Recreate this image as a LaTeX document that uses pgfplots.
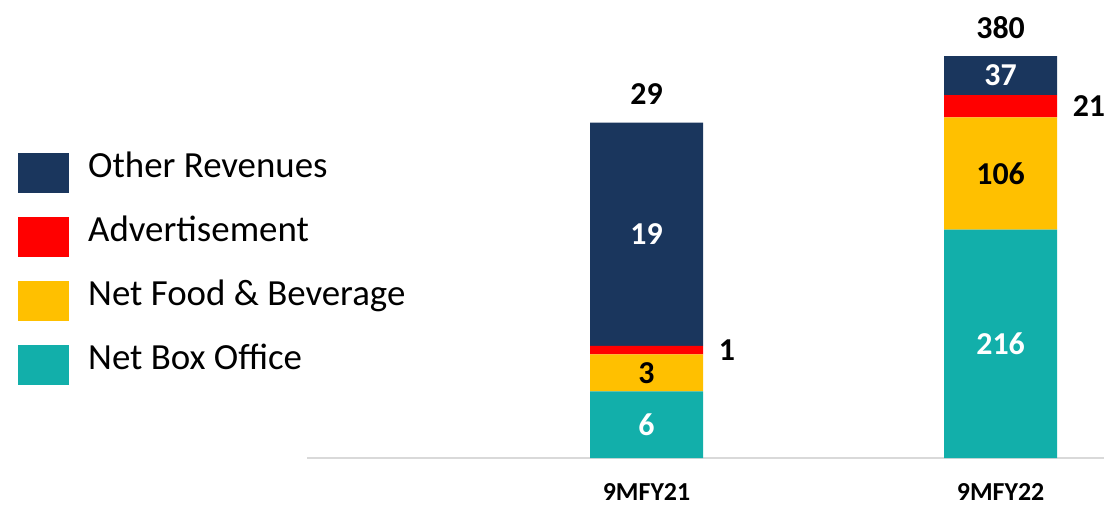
\documentclass[border=0pt]{standalone}
\usepackage{fontspec}
\setmainfont{Carlito}
\usepackage{pgfplots}
\pgfplotsset{compat=1.18}
\usepackage{pgfplotstable}

\definecolor{cOther}{HTML}{1A365D}
\definecolor{cAdv}{HTML}{FF0000}
\definecolor{cFnb}{HTML}{FFC000}
\definecolor{cNbo}{HTML}{12AFAA}
\definecolor{axgray}{HTML}{D9D9D9}

% drawn heights (9MFY21 bar is drawn on an enlarged scale in the reference)
\pgfplotstableread{
x nbo fnb adv oth
0 63 35 8 211
1 216 106 21 37
}\bars
\pgfplotstableread{
x y lab
0 31.5 6
0 211.5 19
1 108 216
1 361.5 37
}\whitelabs
\pgfplotstableread{
x y lab
0 80.5 3
1 269 106
}\blacklabs
\pgfplotstableread{
x y lab
0 102 1
1 332.5 21
}\advlabs
\pgfplotstableread{
x y lab
0 344 29
1 407 380
}\totlabs

\pgfplotsset{myax/.style={scale only axis, width=797bp, height=440bp,
  xmin=-0.959, xmax=1.292, ymin=0, ymax=416,
  at={(307bp,47bp)}, anchor=south west, clip=false}}

\newcommand{\lblfont}{\fontsize{32}{38}\selectfont\bfseries}
\newcommand{\tkfont}{\fontsize{26}{30}\selectfont\bfseries}

\begin{document}
\begin{tikzpicture}
\useasboundingbox (0,0) rectangle (1104bp,505bp);
\begin{axis}[myax, ybar stacked, bar width=113bp, bar shift=0pt,
  axis x line=bottom, axis y line=none,
  axis line style={-, draw=axgray, line width=1.5bp},
  xtick={0,1}, xticklabels={{\tkfont 9MFY21},{\tkfont 9MFY22}}, major tick length=0pt,
  x tick label style={font=\tkfont, yshift=-22bp},
  ytick=\empty,
  reverse legend,
  legend image code/.code={\fill[#1] (0bp,-20bp) rectangle (51bp,20bp);},
  legend cell align=left,
  legend style={at={(-0.3626,0.693)}, anchor=north west, draw=none, fill=none,
    font=\fontsize{37}{44}\selectfont, row sep=24bp, column sep=19bp,
    inner sep=0pt, nodes={inner sep=0pt, text height=24bp, text depth=15bp}},
]
\addplot[fill=cNbo, draw=none] table[x=x, y=nbo] {\bars};
\addlegendentry{Net Box Office}
\addplot[fill=cFnb, draw=none] table[x=x, y=fnb] {\bars};
\addlegendentry{Net Food \& Beverage}
\addplot[fill=cAdv, draw=none] table[x=x, y=adv] {\bars};
\addlegendentry{Advertisement}
\addplot[fill=cOther, draw=none] table[x=x, y=oth] {\bars};
\addlegendentry{Other Revenues}
\end{axis}

\begin{axis}[myax, hide axis]
\addplot[draw=none, mark=none, nodes near coords, point meta=explicit symbolic,
  every node near coord/.append style={anchor=center, inner sep=0pt, text=white, font=\lblfont}]
  table[x=x, y=y, meta=lab] {\whitelabs};
\addplot[draw=none, mark=none, nodes near coords, point meta=explicit symbolic,
  every node near coord/.append style={anchor=center, inner sep=0pt, text=black, font=\lblfont}]
  table[x=x, y=y, meta=lab] {\blacklabs};
\addplot[draw=none, mark=none, nodes near coords, point meta=explicit symbolic,
  every node near coord/.append style={anchor=west, xshift=72bp, inner sep=0pt, text=black, font=\lblfont}]
  table[x=x, y=y, meta=lab] {\advlabs};
\addplot[draw=none, mark=none, nodes near coords, point meta=explicit symbolic,
  every node near coord/.append style={anchor=center, inner sep=0pt, text=black, font=\lblfont}]
  table[x=x, y=y, meta=lab] {\totlabs};
\end{axis}
\end{tikzpicture}
\end{document}
